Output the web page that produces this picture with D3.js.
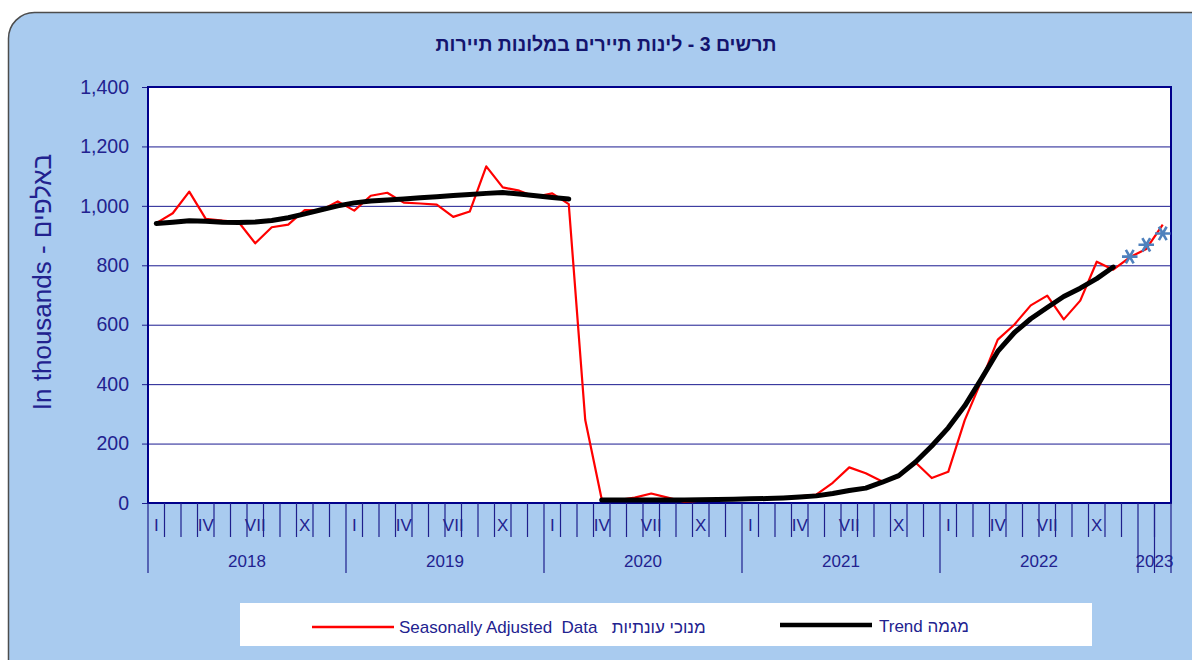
<!DOCTYPE html>
<html>
<head>
<meta charset="utf-8">
<script src="https://cdn.jsdelivr.net/npm/d3@7"></script>
<style>
  html, body { margin: 0; padding: 0; background: #fff; }
  svg { display: block; font-family: "Liberation Sans", Arial, sans-serif; }
</style>
</head>
<body>
<svg id="chart" width="1192" height="660"></svg>
<script>
'use strict';

// months Jan 2018 .. Feb 2023
const years   = [2018, 2019, 2020, 2021, 2022, 2023];
const romans  = ['I', '', '', 'IV', '', '', 'VII', '', '', 'X', '', ''];

// seasonally adjusted (thousands)
const seasAdj = [
  942, 975, 1048, 956, 950, 945, 874, 928, 937, 986, 985, 1015,
  984, 1034, 1044, 1011, 1008, 1004, 963, 981, 1133, 1062, 1051, 1030,
  1042, 1006, 279, 12, 10, 18, 32, 18, 4, 8, 15, 14,
  14, 15, 16, 22, 28, 68, 120, 100, 72, 88, 137, 84,
  105, 279, 410, 550, 600, 665, 698, 618, 681, 812, 785, 827,
  855, 937
];

// trend (thousands), gap in Mar 2020
const trend = [
  941, 945, 950, 948, 945, 944, 946, 951, 960, 973, 987, 1000,
  1010, 1016, 1020, 1023, 1027, 1031, 1035, 1038, 1042, 1045, 1040, 1034,
  1028, 1023, null, 10, 10, 10, 10, 10, 10, 11, 12, 13,
  14, 15, 17, 20, 24, 32, 42, 50, 70, 92, 137, 192,
  253, 327, 417, 510, 573, 620, 658, 695, 723, 755, 794, null,
  null, null
];

// provisional estimates (asterisks)
const estimate = [
  null, null, null, null, null, null, null, null, null, null, null, null,
  null, null, null, null, null, null, null, null, null, null, null, null,
  null, null, null, null, null, null, null, null, null, null, null, null,
  null, null, null, null, null, null, null, null, null, null, null, null,
  null, null, null, null, null, null, null, null, null, null, null, 829,
  869, 907
];

const yTicks = [0, 200, 400, 600, 800, 1000, 1200, 1400];

const navy = '#1f1f8c';
const svg = d3.select('#chart');

// panel
svg.append('rect')
  .attr('x', 8.5).attr('y', 12.5)
  .attr('width', 1220).attr('height', 700)
  .attr('rx', 26).attr('ry', 26)
  .attr('fill', '#a9cbef')
  .attr('stroke', '#4d4d4d').attr('stroke-width', 1.5);

svg.append('text')
  .attr('x', 606).attr('y', 51)
  .attr('text-anchor', 'middle')
  .attr('direction', 'rtl')
  .style('font-size', '19.5px').style('font-weight', 'bold')
  .attr('fill', '#14146e')
  .text('תרשים 3 - לינות תיירים במלונות תיירות');

const L = 148, R = 1171, T = 87, B = 503;
const months = d3.range(seasAdj.length);

const x = d3.scaleBand().domain(months).range([L, R]).paddingInner(0).paddingOuter(0);
const cx = i => x(i) + x.bandwidth() / 2;
const y = d3.scaleLinear().domain([0, 1400]).range([B, T]);

svg.append('rect')
  .attr('x', L).attr('y', T).attr('width', R - L).attr('height', B - T)
  .attr('fill', '#fff');

// grid
svg.append('g')
  .attr('transform', `translate(${L},0)`)
  .call(d3.axisLeft(y).tickValues(yTicks).tickSize(-(R - L)).tickFormat(''))
  .call(g => g.select('.domain').remove())
  .call(g => g.selectAll('line').attr('stroke', '#1a1a90').attr('stroke-width', 1));

// y axis
svg.append('g')
  .attr('transform', `translate(${L},0)`)
  .call(d3.axisLeft(y).tickValues(yTicks).tickSize(6).tickPadding(13).tickFormat(d3.format(',')))
  .call(g => g.select('.domain').remove())
  .call(g => g.selectAll('line').attr('stroke', navy))
  .call(g => g.selectAll('text')
    .attr('fill', '#22228f')
    .style('font-size', '19.5px')
    .style('font-family', '"Liberation Sans", Arial, sans-serif'));

svg.append('text')
  .attr('transform', 'translate(51,282) rotate(-90)')
  .attr('text-anchor', 'middle')
  .style('font-size', '26px')
  .attr('fill', '#22228f')
  .text('In thousands - באלפים');

// plot border
svg.append('rect')
  .attr('x', L).attr('y', T).attr('width', R - L).attr('height', B - T)
  .attr('fill', 'none').attr('stroke', '#00008b').attr('stroke-width', 2);

// x axis: month ticks & labels, year groups
const xa = svg.append('g');
months.forEach(i => {
  const isYear = i % 12 === 0;
  xa.append('line')
    .attr('x1', x(i)).attr('x2', x(i))
    .attr('y1', B).attr('y2', isYear ? 573 : 537)
    .attr('stroke', navy).attr('stroke-width', 1.2);
  const lab = romans[i % 12];
  const fullYear = Math.floor(i / 12) * 12 + 12 <= months.length;
  if (lab && fullYear) {
    xa.append('text')
      .attr('x', cx(i)).attr('y', 531)
      .attr('text-anchor', 'middle')
      .style('font-size', '17px')
      .attr('fill', '#22228f')
      .text(lab);
  }
});
xa.append('line')
  .attr('x1', R).attr('x2', R).attr('y1', B).attr('y2', 573)
  .attr('stroke', navy).attr('stroke-width', 1.2);
// last partial year: its month divider runs full depth
xa.append('line')
  .attr('x1', x(61)).attr('x2', x(61)).attr('y1', B).attr('y2', 573)
  .attr('stroke', navy).attr('stroke-width', 1.2);

years.forEach((yr, k) => {
  const first = k * 12;
  const last = Math.min(first + 11, months.length - 1);
  const mid = (x(first) + x(last) + x.bandwidth()) / 2;
  xa.append('text')
    .attr('x', mid).attr('y', 567)
    .attr('text-anchor', 'middle')
    .style('font-size', '17px')
    .attr('fill', '#22228f')
    .text(yr);
});

// series
const line = d3.line()
  .defined(d => d != null)
  .x((d, i) => cx(i))
  .y(d => y(d));

svg.append('path')
  .datum(seasAdj)
  .attr('d', line)
  .attr('fill', 'none')
  .attr('stroke', '#ff0000')
  .attr('stroke-width', 2.2)
  .attr('stroke-linejoin', 'round');

svg.append('path')
  .datum(trend)
  .attr('d', line)
  .attr('fill', 'none')
  .attr('stroke', '#000')
  .attr('stroke-width', 5)
  .attr('stroke-linecap', 'round')
  .attr('stroke-linejoin', 'round');

const star = d3.symbol().type(d3.symbolAsterisk).size(170);
svg.append('g')
  .selectAll('path')
  .data(estimate.map((v, i) => ({v, i})).filter(d => d.v != null))
  .join('path')
  .attr('transform', d => `translate(${cx(d.i)},${y(d.v)}) rotate(30)`)
  .attr('d', star)
  .attr('fill', 'none')
  .attr('stroke', '#4f81bd')
  .attr('stroke-width', 2.6);

// legend
const lg = svg.append('g');
lg.append('rect')
  .attr('x', 240).attr('y', 603).attr('width', 852).attr('height', 43)
  .attr('fill', '#fff');
lg.append('line')
  .attr('x1', 312).attr('x2', 394).attr('y1', 627).attr('y2', 627)
  .attr('stroke', '#ff0000').attr('stroke-width', 2.5);
lg.append('text')
  .attr('x', 399).attr('y', 633)
  .style('font-size', '17px')
  .attr('fill', '#22228f')
  .style('white-space', 'pre')
  .text('Seasonally Adjusted  Data   מנוכי עונתיות');
lg.append('line')
  .attr('x1', 780).attr('x2', 872).attr('y1', 625).attr('y2', 625)
  .attr('stroke', '#000').attr('stroke-width', 4.5);
lg.append('text')
  .attr('x', 879).attr('y', 632)
  .style('font-size', '17px')
  .attr('fill', '#22228f')
  .text('Trend מגמה');
</script>
</body>
</html>
